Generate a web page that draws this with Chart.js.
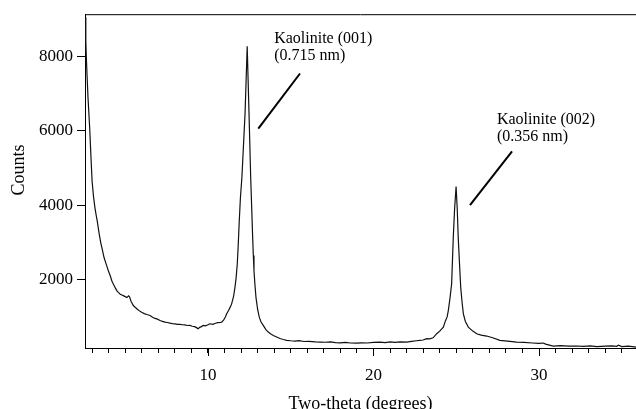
<!DOCTYPE html>
<html>
<head>
<meta charset="utf-8">
<script src="https://cdn.jsdelivr.net/npm/chart.js@4"></script>
<style>
body { margin: 0; background: #fff; }
#wrap { width: 636px; height: 409px; overflow: hidden; }
</style>
</head>
<body>
<div id="wrap"><canvas id="XrdChart" width="636" height="425"></canvas></div>
<script>
// diffraction trace
var twoTheta = [
  2.57, 2.62, 2.66, 2.75, 2.85, 2.95, 3.00, 3.08, 3.17, 3.25,
  3.31, 3.42, 3.52, 3.62, 3.72, 3.85, 3.98, 4.10, 4.20, 4.28,
  4.40, 4.50, 4.58, 4.70, 4.80, 4.88, 5.00, 5.10, 5.20, 5.26,
  5.35, 5.49, 5.60, 5.75, 5.90, 5.99, 6.15, 6.30, 6.50, 6.65,
  6.80, 6.95, 7.10, 7.25, 7.40, 7.55, 7.70, 7.85, 8.00, 8.15,
  8.31, 8.45, 8.60, 8.75, 8.91, 9.05, 9.20, 9.35, 9.41, 9.50,
  9.60, 9.72, 9.85, 10.00, 10.12, 10.30, 10.45, 10.60, 10.75, 10.83,
  10.95, 11.05, 11.13, 11.25, 11.35, 11.43, 11.55, 11.63, 11.70, 11.77,
  11.83, 11.89, 11.96, 12.05, 12.24, 12.37, 12.48, 12.58, 12.64, 12.70,
  12.74, 12.78, 12.84, 12.90, 13.00, 13.10, 13.20, 13.34, 13.50, 13.64,
  13.80, 13.95, 14.15, 14.35, 14.55, 14.76, 15.00, 15.26, 15.50, 15.80,
  16.10, 16.50, 16.80, 17.10, 17.40, 17.70, 18.00, 18.30, 18.60, 18.98,
  19.30, 19.60, 20.00, 20.39, 20.70, 21.00, 21.30, 21.60, 22.00, 22.30,
  22.60, 22.80, 23.00, 23.21, 23.40, 23.60, 23.82, 24.00, 24.22, 24.35,
  24.45, 24.52, 24.62, 24.72, 24.82, 24.90, 24.99, 25.06, 25.12, 25.20,
  25.27, 25.35, 25.43, 25.55, 25.73, 26.00, 26.24, 26.50, 26.84, 27.20,
  27.64, 28.10, 28.65, 29.10, 29.60, 30.00, 30.26, 30.40, 30.86, 31.30,
  31.80, 32.30, 32.68, 33.10, 33.50, 34.00, 34.40, 34.69, 34.80, 35.00,
  35.40, 35.86
];
var counts = [
  9050, 8400, 7850, 6900, 6100, 5100, 4640, 4250, 3930, 3720,
  3575, 3250, 2996, 2800, 2595, 2420, 2240, 2100, 1960, 1885,
  1780, 1700, 1660, 1610, 1590, 1573, 1545, 1520, 1565, 1540,
  1420, 1306, 1260, 1200, 1150, 1127, 1090, 1065, 1039, 990,
  960, 940, 905, 880, 860, 850, 834, 820, 815, 800,
  798, 790, 785, 770, 772, 750, 740, 700, 684, 720,
  740, 772, 760, 790, 817, 800, 830, 845, 850, 860,
  920, 1000, 1084, 1180, 1270, 1351, 1560, 1795, 2050, 2420,
  2950, 3575, 4200, 4750, 6460, 8270, 6460, 4750, 3950, 3130,
  2650, 2240, 1850, 1527, 1200, 993, 870, 772, 660, 593,
  540, 500, 460, 420, 395, 371, 360, 353, 365, 340,
  345, 330, 326, 320, 330, 310, 305, 315, 300, 295,
  305, 300, 315, 326, 310, 330, 315, 330, 326, 345,
  360, 371, 380, 417, 410, 440, 550, 620, 727, 900,
  1000, 1172, 1500, 1885, 3130, 3900, 4500, 3900, 3130, 2400,
  1795, 1400, 1084, 880, 727, 620, 550, 510, 487, 440,
  371, 350, 326, 315, 300, 290, 300, 270, 219, 230,
  215, 220, 211, 225, 205, 215, 225, 211, 240, 205,
  215, 192
];
var xTickValues = [3, 4, 5, 6, 7, 8, 9, 10, 11, 12, 13, 14, 15, 16, 17, 18, 19,
  20, 21, 22, 23, 24, 25, 26, 27, 28, 29, 30, 31, 32, 33, 34, 35];
var yTickValues = [2000, 4000, 6000, 8000];
var peakNames = ['Kaolinite (001)', 'Kaolinite (002)'];
var peakSpacings = ['(0.715 nm)', '(0.356 nm)'];

var serif = "'Liberation Serif', 'Times New Roman', serif";

// where the peak labels sit, in data units
var callouts = [
  { text: [14.0, 8344], from: [15.56, 7538], to: [13.04, 6055] },
  { text: [27.46, 6183], from: [28.37, 5449], to: [25.83, 4000] }
];

var points = twoTheta.map(function (t, i) { return { x: t, y: counts[i] }; });

var decorations = {
  id: 'decorations',
  afterDraw: function (chart) {
    var ctx = chart.ctx, area = chart.chartArea;
    var xs = chart.scales.x, ys = chart.scales.y;
    ctx.save();
    ctx.strokeStyle = '#000';
    ctx.lineWidth = 1;
    ctx.beginPath();
    // top frame
    ctx.moveTo(area.left, area.top + 0.5);
    ctx.lineTo(area.right, area.top + 0.5);
    // longer ticks under the labelled values
    xs.ticks.forEach(function (t) {
      if (t.value % 10 === 0) {
        var px = Math.round(xs.getPixelForValue(t.value)) + 0.5;
        ctx.moveTo(px, area.bottom);
        ctx.lineTo(px, area.bottom + 8);
      }
    });
    ctx.stroke();

    // y title
    ctx.fillStyle = '#000';
    ctx.font = '18px ' + serif;
    ctx.textAlign = 'center';
    ctx.textBaseline = 'middle';
    ctx.save();
    ctx.translate(19, area.top + area.height * 0.467);
    ctx.rotate(-Math.PI / 2);
    ctx.fillText('Counts', 0, 0);
    ctx.restore();

    // peak callouts
    ctx.font = '16px ' + serif;
    ctx.textAlign = 'left';
    ctx.textBaseline = 'alphabetic';
    ctx.lineWidth = 2;
    callouts.forEach(function (c, i) {
      var tx = xs.getPixelForValue(c.text[0]), ty = ys.getPixelForValue(c.text[1]);
      ctx.fillText(peakNames[i], tx, ty);
      ctx.fillText(peakSpacings[i], tx, ty + 17);
      ctx.beginPath();
      ctx.moveTo(xs.getPixelForValue(c.from[0]), ys.getPixelForValue(c.from[1]));
      ctx.lineTo(xs.getPixelForValue(c.to[0]), ys.getPixelForValue(c.to[1]));
      ctx.stroke();
    });
    ctx.restore();
  }
};

var ctx = document.getElementById('XrdChart').getContext('2d');
var myChart = new Chart(ctx, {
  type: 'scatter',
  data: {
    datasets: [{
      label: 'Counts',
      data: points,
      showLine: true,
      borderColor: '#111',
      borderWidth: 1.2,
      pointRadius: 0,
      tension: 0
    }]
  },
  options: {
    responsive: false,
    animation: false,
    layout: { padding: { top: 12, right: 0, bottom: 0, left: 0 } },
    plugins: { legend: { display: false }, tooltip: { enabled: false } },
    scales: {
      x: {
        type: 'linear',
        min: 2.57,
        max: 35.86,
        afterBuildTicks: function (s) { s.ticks = xTickValues.map(function (v) { return { value: v }; }); },
        afterFit: function (s) { s.height = 77; },
        grid: { drawOnChartArea: false, tickLength: 5, color: '#000' },
        border: { color: '#000', width: 1 },
        ticks: {
          color: '#000', font: { family: serif, size: 17 }, padding: 12,
          maxRotation: 0, autoSkip: false,
          callback: function (v) { return v % 10 === 0 ? String(v) : ''; }
        },
        title: {
          display: true, text: 'Two-theta (degrees)', color: '#000',
          font: { family: serif, size: 18 }, padding: { top: 0, bottom: 10 }
        }
      },
      y: {
        min: 166,
        max: 9130,
        afterBuildTicks: function (s) { s.ticks = yTickValues.map(function (v) { return { value: v }; }); },
        afterFit: function (s) { s.width = 85; },
        grid: { drawOnChartArea: false, tickLength: 8, color: '#000' },
        border: { color: '#000', width: 1 },
        ticks: {
          color: '#000', font: { family: serif, size: 17 }, padding: 4,
          callback: function (v) { return String(v); }
        }
      }
    }
  },
  plugins: [decorations]
});
</script>
</body>
</html>
